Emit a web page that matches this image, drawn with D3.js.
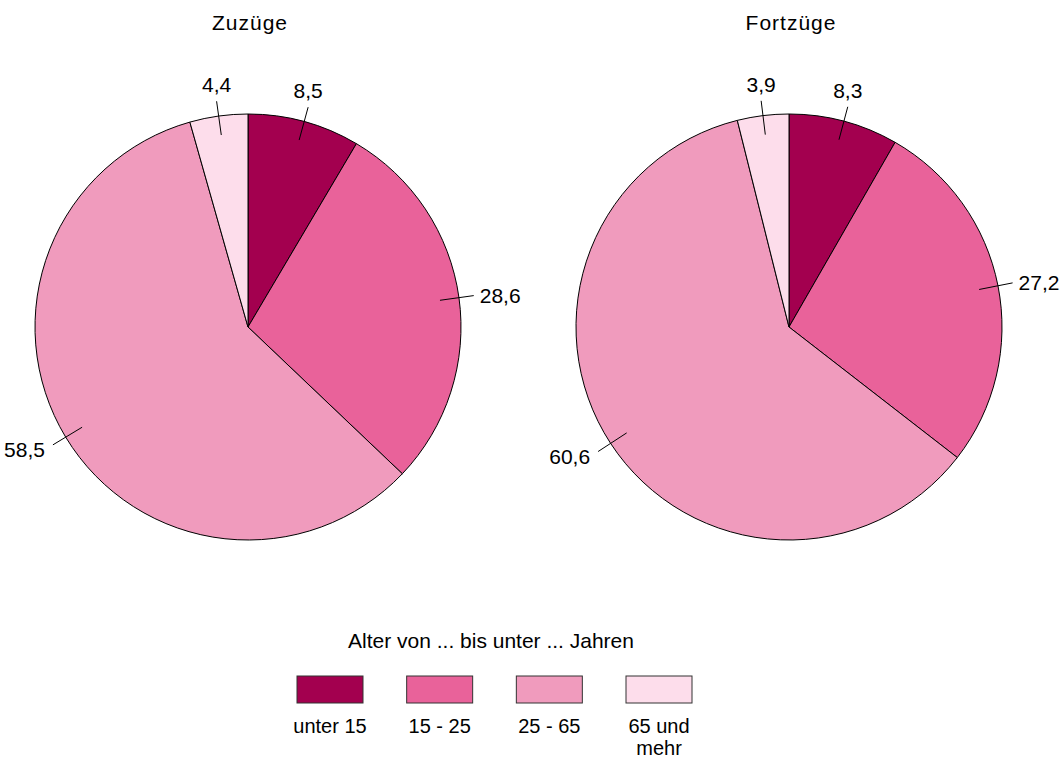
<!DOCTYPE html>
<html>
<head>
<meta charset="utf-8">
<script src="https://cdn.jsdelivr.net/npm/d3@7"></script>
<style>
  body { margin: 0; background: #fff; }
  text { font-family: "Liberation Sans", Arial, sans-serif; fill: #000; }
</style>
</head>
<body>
<script>
// age groups and their shares (percent)
let categories = ['unter 15', '15 - 25', '25 - 65', '65 und mehr'];
let colors = ['#A3004F', '#E9629A', '#F09BBD', '#FDDDEB'];
let zuzuege = [8.5, 28.6, 58.5, 4.4];
let fortzuege = [8.3, 27.2, 60.6, 3.9];
let titles = ['Zuzüge', 'Fortzüge'];
let legendTitle = 'Alter von ... bis unter ... Jahren';

let w = 1064, h = 758;
let r = 213;
let centersX = [248, 789];
let centerY = 327;

let svg = d3.select('body')
  .append('svg')
  .attr('width', w)
  .attr('height', h);

let color = d3.scaleOrdinal().domain(categories).range(colors);

let pie = d3.pie().sort(null).value(d => d.value);
let arc = d3.arc().innerRadius(0).outerRadius(r);

let fmt = v => d3.format('.1f')(v).replace('.', ',');

let drawPie = (values, cx, title) => {
  let g = svg.append('g').attr('transform', 'translate(' + cx + ',' + centerY + ')');

  svg.append('text')
     .attr('x', cx + 2)
     .attr('y', 30)
     .attr('text-anchor', 'middle')
     .style('font-size', '21px')
     .style('letter-spacing', '1px')
     .text(title);

  let arcs = pie(values.map((v, i) => ({ cat: categories[i], value: v })));

  g.selectAll('path')
   .data(arcs)
   .enter()
   .append('path')
   .attr('d', arc)
   .attr('fill', d => color(d.data.cat))
   .attr('stroke', '#000')
   .attr('stroke-width', 1);

  // leader lines + value labels
  arcs.forEach(d => {
    let a = (d.startAngle + d.endAngle) / 2;
    let sx = Math.sin(a), sy = -Math.cos(a);
    let p1 = [sx * r * 0.91, sy * r * 0.91];
    let p2 = [sx * r * 1.07, sy * r * 1.07];

    g.append('line')
     .attr('x1', p1[0]).attr('y1', p1[1])
     .attr('x2', p2[0]).attr('y2', p2[1])
     .attr('stroke', '#000')
     .attr('stroke-width', 1);

    let t = g.append('text')
      .style('font-size', '21px')
      .text(fmt(d.data.value));

    if (Math.abs(sx) < 0.5) {
      t.attr('x', p2[0]).attr('y', p2[1] - 9).attr('text-anchor', 'middle');
    } else if (sx > 0) {
      t.attr('x', p2[0] + 6).attr('y', p2[1] + 7).attr('text-anchor', 'start');
    } else {
      t.attr('x', p2[0] - 8).attr('y', p2[1] + 12).attr('text-anchor', 'end');
    }
  });
};

drawPie(zuzuege, centersX[0], titles[0]);
drawPie(fortzuege, centersX[1], titles[1]);

// legend
svg.append('text')
   .attr('x', 491)
   .attr('y', 648)
   .attr('text-anchor', 'middle')
   .style('font-size', '21px')
   .text(legendTitle);

let legendX = d3.scalePoint().domain(categories).range([330, 659]);

let items = svg.selectAll('.legend-item')
  .data(categories)
  .enter()
  .append('g')
  .attr('class', 'legend-item')
  .attr('transform', d => 'translate(' + legendX(d) + ',0)');

items.append('rect')
     .attr('x', -33)
     .attr('y', 676)
     .attr('width', 66)
     .attr('height', 27)
     .attr('fill', d => color(d))
     .attr('stroke', '#333')
     .attr('stroke-width', 1);

items.each(function (d) {
  let lines = d === '65 und mehr' ? ['65 und', 'mehr'] : [d];
  let t = d3.select(this).append('text')
    .attr('text-anchor', 'middle')
    .style('font-size', '20px');
  lines.forEach((l, i) => {
    t.append('tspan').attr('x', 0).attr('y', 733 + i * 22).text(l);
  });
});
</script>
</body>
</html>
